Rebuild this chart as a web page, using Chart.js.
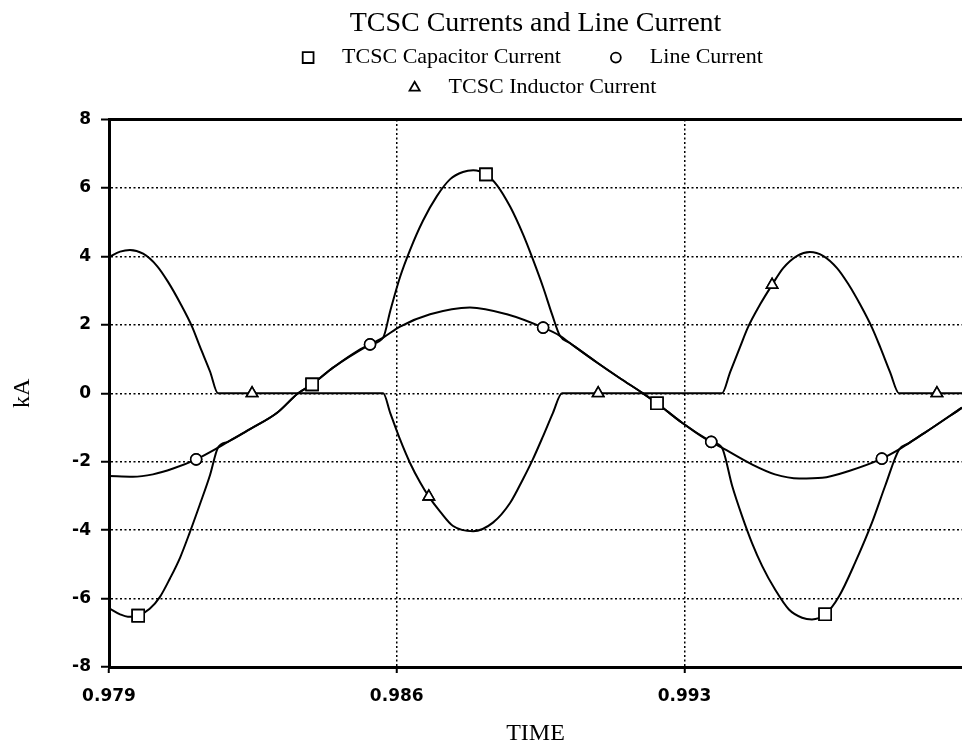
<!DOCTYPE html>
<html>
<head>
<meta charset="utf-8">
<title>TCSC Currents and Line Current</title>
<script src="https://cdn.jsdelivr.net/npm/chart.js@4.4.1/dist/chart.umd.min.js"></script>
<style>
  html, body { margin: 0; padding: 0; background: #fff; }
  #tcsc-chart { display: block; }
</style>
</head>
<body>
<canvas id="tcsc-chart" width="962" height="748"></canvas>
<script>
// time axis (s) and current axis (kA)
var xTicks = [0.979, 0.986, 0.993];
var xMin = 0.979, xMax = 0.99975;
var yMin = -8, yMax = 8, yStep = 2;

// TCSC capacitor current
var capTime = [0.97900, 0.97927, 0.97946, 0.97971, 0.97999, 0.98024, 0.98048, 0.98073, 0.98097, 0.98121,
    0.98146, 0.98165, 0.98189, 0.98243, 0.98309, 0.98360, 0.98394, 0.98445, 0.98535, 0.98567,
    0.98584, 0.98608, 0.98632, 0.98664, 0.98698, 0.98730, 0.98761, 0.98786, 0.98817, 0.98844,
    0.98876, 0.98907, 0.98931, 0.98956, 0.98978, 0.98997, 0.99021, 0.99087, 0.99143, 0.99199,
    0.99233, 0.99294, 0.99365, 0.99391, 0.99416, 0.99440, 0.99464, 0.99489, 0.99520, 0.99554,
    0.99586, 0.99610, 0.99642, 0.99676, 0.99715, 0.99756, 0.99788, 0.99822, 0.99844, 0.99885,
    0.99975];
var capCurrent = [-6.28, -6.46, -6.53, -6.50, -6.30, -5.95, -5.42, -4.80, -4.05, -3.25,
    -2.38, -1.59, -1.42, -1.05, -0.57, 0.00, 0.26, 0.75, 1.43, 1.63,
    2.40, 3.40, 4.18, 5.05, 5.77, 6.26, 6.47, 6.52, 6.40, 6.08,
    5.45, 4.65, 3.92, 3.10, 2.30, 1.68, 1.47, 0.90, 0.44, 0.00,
    -0.29, -0.86, -1.42, -1.59, -2.71, -3.59, -4.37, -5.05, -5.73, -6.32,
    -6.56, -6.61, -6.46, -5.93, -4.95, -3.78, -2.71, -1.64, -1.47, -1.15,
    -0.42];
var capMarks = [0.97971, 0.98394, 0.98817, 0.99233, 0.99642];

// line current
var lineTime = [0.97900, 0.97958, 0.98007, 0.98056, 0.98112, 0.98165, 0.98189, 0.98243, 0.98309, 0.98360,
    0.98394, 0.98445, 0.98535, 0.98567, 0.98608, 0.98681, 0.98778, 0.98868, 0.98956, 0.98997,
    0.99021, 0.99087, 0.99143, 0.99199, 0.99233, 0.99294, 0.99365, 0.99391, 0.99464, 0.99520,
    0.99579, 0.99635, 0.99700, 0.99780, 0.99822, 0.99844, 0.99885, 0.99975];
var lineCurrent = [-2.42, -2.44, -2.37, -2.20, -1.93, -1.59, -1.42, -1.05, -0.57, 0.00,
    0.26, 0.75, 1.43, 1.63, 1.95, 2.31, 2.51, 2.31, 1.92, 1.68,
    1.47, 0.90, 0.44, 0.00, -0.29, -0.86, -1.42, -1.59, -2.08, -2.37,
    -2.49, -2.47, -2.27, -1.91, -1.64, -1.47, -1.15, -0.42];
var lineMarks = [0.98112, 0.98535, 0.98956, 0.99365, 0.99780];

// TCSC inductor current
var indTime = [0.97900, 0.97927, 0.97951, 0.97983, 0.98017, 0.98044, 0.98073, 0.98102, 0.98121, 0.98146,
    0.98165, 0.98248, 0.98567, 0.98584, 0.98608, 0.98632, 0.98657, 0.98678, 0.98705, 0.98737,
    0.98786, 0.98834, 0.98876, 0.98907, 0.98931, 0.98956, 0.98980, 0.99002, 0.99090, 0.99391,
    0.99411, 0.99435, 0.99454, 0.99484, 0.99513, 0.99540, 0.99574, 0.99605, 0.99637, 0.99671,
    0.99698, 0.99727, 0.99756, 0.99776, 0.99800, 0.99822, 0.99914, 0.99975];
var indCurrent = [3.98, 4.14, 4.19, 4.08, 3.72, 3.25, 2.64, 1.95, 1.37, 0.63,
    0.00, 0.00, 0.00, -0.57, -1.35, -2.03, -2.61, -3.02, -3.45, -3.88,
    -4.03, -3.78, -3.20, -2.51, -1.93, -1.25, -0.57, 0.00, 0.00, 0.00,
    0.62, 1.35, 1.92, 2.60, 3.17, 3.66, 4.02, 4.13, 4.02, 3.66,
    3.20, 2.60, 1.92, 1.35, 0.62, 0.00, 0.00, 0.00];
var indMarks = [0.98248, 0.98678, 0.99090, 0.99513, 0.99914];

var serif = '"Liberation Serif", "Times New Roman", serif';
var markerRadius = { rect: 8.5, circle: 5.5, triangle: 6.5 };
var keyRows = [[0, 1], [2]];

function points(time, values) {
    return time.map(function (t, i) { return { x: t, y: values[i] }; });
}

function series(label, time, values, marks, style) {
    return {
        label: label,
        data: points(time, values),
        borderColor: '#000',
        borderWidth: 2,
        fill: false,
        cubicInterpolationMode: 'monotone',
        pointStyle: style,
        pointRadius: function (c) { return c.raw && marks.indexOf(c.raw.x) >= 0 ? markerRadius[style] : 0; },
        pointBorderWidth: 1.6,
        pointBorderColor: '#000',
        pointBackgroundColor: '#fff'
    };
}

// keep the markers above every curve
var pointsOnTop = {
    id: 'pointsOnTop',
    afterDatasetsDraw: function (chart) {
        chart.getSortedVisibleDatasetMetas().forEach(function (meta) {
            meta.data.forEach(function (pt) { pt.draw(chart.ctx, chart.chartArea); });
        });
    }
};

// two-row key under the title
var seriesKey = {
    id: 'seriesKey',
    afterDraw: function (chart) {
        var ctx = chart.ctx, area = chart.chartArea, sets = chart.data.datasets;
        var cx = (area.left + area.right) / 2;
        ctx.save();
        ctx.font = '22px ' + serif;
        ctx.textBaseline = 'middle';
        ctx.textAlign = 'left';
        keyRows.forEach(function (row, r) {
            var y = area.top - 62 + r * 30;
            var widths = row.map(function (i) { return 34 + ctx.measureText(sets[i].label).width; });
            var total = widths.reduce(function (a, b) { return a + b; }, 0) + 55 * (row.length - 1);
            var x = cx - total / 2;
            row.forEach(function (i, k) {
                var style = sets[i].pointStyle;
                ctx.fillStyle = '#fff';
                ctx.strokeStyle = '#000';
                ctx.lineWidth = 1.8;
                Chart.helpers.drawPoint(ctx, { pointStyle: style, radius: markerRadius[style] * 0.9, borderWidth: 1.8, rotation: 0 }, x, y);
                ctx.fillStyle = '#000';
                ctx.fillText(sets[i].label, x + 34, y);
                x += widths[k] + 55;
            });
        });
        ctx.restore();
    }
};

var tickFont = { family: '"DejaVu Sans", sans-serif', size: 17, weight: 'bold' };

new Chart(document.getElementById('tcsc-chart'), {
    type: 'line',
    data: {
        datasets: [
            series('TCSC Capacitor Current', capTime, capCurrent, capMarks, 'rect'),
            series('Line Current', lineTime, lineCurrent, lineMarks, 'circle'),
            series('TCSC Inductor Current', indTime, indCurrent, indMarks, 'triangle')
        ]
    },
    options: {
        responsive: false,
        animation: false,
        events: [],
        layout: { padding: 0 },
        plugins: {
            legend: { display: false },
            tooltip: { enabled: false },
            title: {
                display: true,
                text: 'TCSC Currents and Line Current',
                color: '#000',
                fullSize: false,
                font: { family: serif, size: 28, weight: 'normal', lineHeight: 1.2 },
                padding: { top: 7, bottom: 79 }
            }
        },
        scales: {
            x: {
                type: 'linear',
                min: xMin,
                max: xMax,
                afterBuildTicks: function (scale) {
                    scale.ticks = xTicks.map(function (v) { return { value: v }; });
                },
                afterFit: function (scale) { scale.height = 81; },
                ticks: {
                    color: '#000',
                    font: tickFont,
                    padding: 13,
                    maxRotation: 0,
                    callback: function (v) { return v.toFixed(3); }
                },
                grid: { color: '#000', lineWidth: 1.5, tickLength: 6, tickWidth: 2, tickColor: '#000' },
                border: { color: '#000', width: 3, dash: [2, 2.5] },
                title: {
                    display: true,
                    text: 'TIME',
                    color: '#000',
                    font: { family: serif, size: 24, weight: 'normal', lineHeight: 1.2 },
                    padding: { top: 4, bottom: 0 }
                }
            },
            y: {
                min: yMin,
                max: yMax,
                afterFit: function (scale) { scale.width = 109; },
                ticks: { stepSize: yStep, color: '#000', font: tickFont, padding: 10 },
                grid: {
                    color: '#000',
                    lineWidth: function (c) { return c.tick && c.tick.value === yMax ? 3 : 1.5; },
                    tickLength: 8,
                    tickWidth: 2,
                    tickColor: '#000'
                },
                border: {
                    color: '#000',
                    width: 3,
                    dash: function (c) { return c.tick && c.tick.value === yMax ? [] : [2, 2.5]; }
                },
                title: {
                    display: true,
                    text: 'kA',
                    color: '#000',
                    font: { family: serif, size: 24, weight: 'normal', lineHeight: 1.2 },
                    padding: { top: 8, bottom: 0 }
                }
            }
        }
    },
    plugins: [pointsOnTop, seriesKey]
});
</script>
</body>
</html>
